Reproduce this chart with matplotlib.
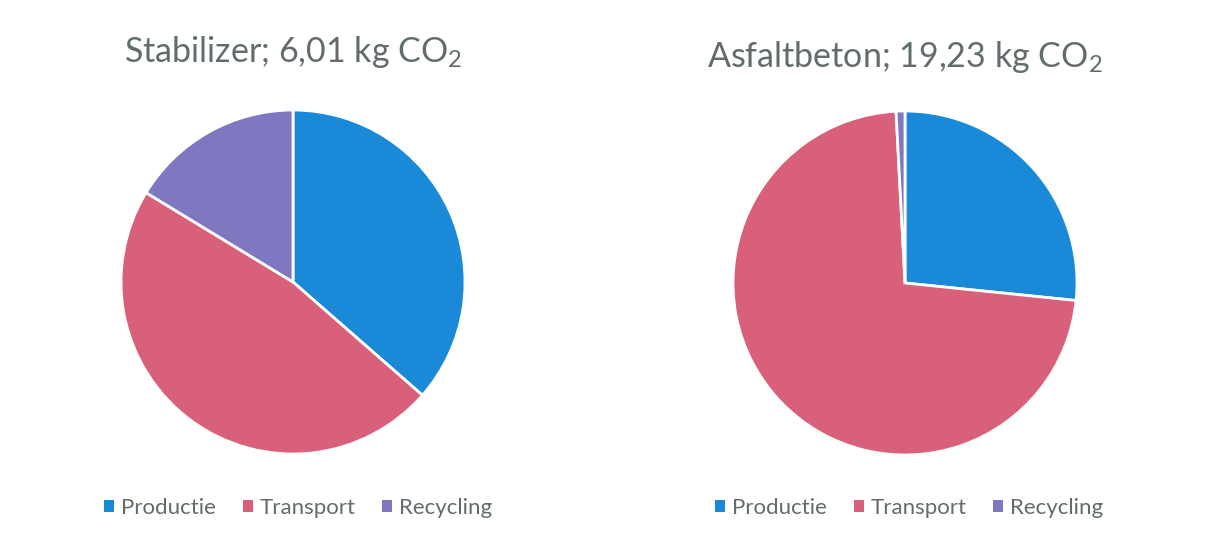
"""Twee taartdiagrammen met de CO2-opbouw per materiaal."""

import matplotlib

matplotlib.use("Agg")

import matplotlib.pyplot as plt  # noqa: E402
from matplotlib.patches import Patch  # noqa: E402

categories = ["Productie", "Transport", "Recycling"]
colors = ["#1a8ad8", "#d9607a", "#7f78c0"]

titles = ["Stabilizer; 6,01 kg CO$_2$", "Asfaltbeton; 19,23 kg CO$_2$"]
stabilizer_kg = [2.19, 2.84, 0.98]
asfaltbeton_kg = [5.12, 13.95, 0.16]

plt.rcParams["font.family"] = ["Lato", "DejaVu Sans"]
plt.rcParams["mathtext.fontset"] = "custom"
plt.rcParams["mathtext.rm"] = "Lato"

W, H = 1209, 541
fig = plt.figure(figsize=(W / 100, H / 100), dpi=100)

centers = [(293, 282), (905, 283)]
radius = 172
title_y = [52, 57]
legend_x = [298, 909]

for i, values in enumerate([stabilizer_kg, asfaltbeton_kg]):
    cx, cy = centers[i]
    ax = fig.add_axes([(cx - radius) / W, (H - cy - radius) / H,
                       2 * radius / W, 2 * radius / H])
    ax.pie(values, colors=colors, startangle=90, counterclock=False,
           wedgeprops={"edgecolor": "white", "linewidth": 2})
    ax.set_xlim(-1, 1)
    ax.set_ylim(-1, 1)
    ax.set_aspect("equal")
    ax.axis("off")

    fig.text(cx / W, 1 - title_y[i] / H, titles[i], ha="center", va="center",
             fontsize=24.5, color="#626c6c")

    handles = [Patch(facecolor=c, edgecolor="none") for c in colors]
    fig.legend(handles, categories, loc="center", ncol=3, frameon=False,
               bbox_to_anchor=(legend_x[i] / W, 1 - 508 / H),
               fontsize=16, labelcolor="#626c6c", handlelength=0.45,
               handleheight=0.45, handletextpad=0.3, columnspacing=1.2)

fig.savefig("out.png", dpi=100, facecolor="white")
